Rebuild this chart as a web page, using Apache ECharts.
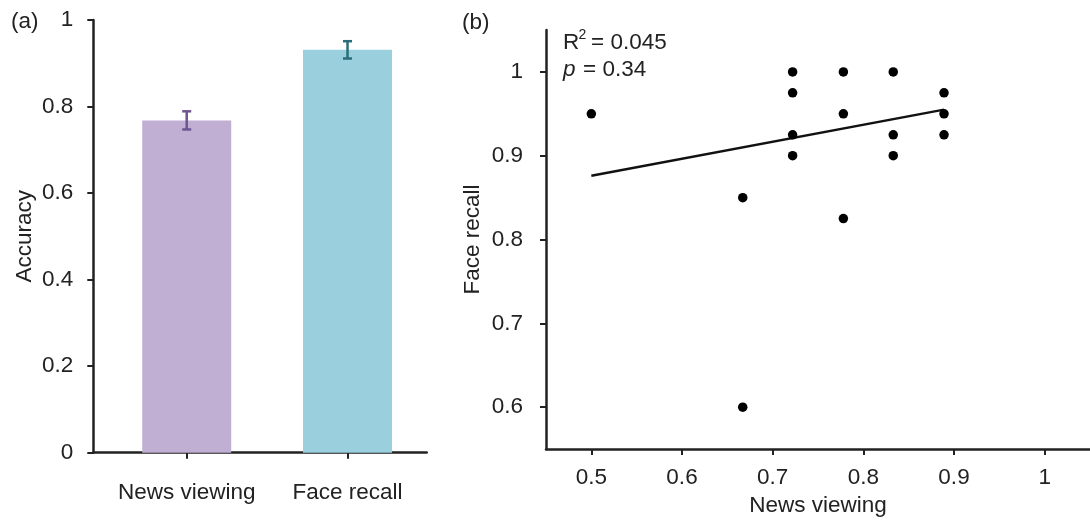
<!DOCTYPE html>
<html>
<head>
<meta charset="utf-8">
<script src="https://cdn.jsdelivr.net/npm/echarts@6/dist/echarts.min.js"></script>
<style>
html,body{margin:0;padding:0;background:#fff;}
#chart{width:1090px;height:522px;}
</style>
</head>
<body>
<div id="chart"></div>
<script>
// ---- Panel (a) data ----
const barCategories = ['News viewing', 'Face recall'];
const barMeans = [0.768, 0.931];
const barErrors = [0.021, 0.020];
const barColors = ['#c0afd3', '#9ad0dd'];
const errColors = ['#6e5590', '#2a6e7c'];
const leftYTicks = [0, 0.2, 0.4, 0.6, 0.8, 1];

// ---- Panel (b) data ----
const scatterX = [0.5, 0.667, 0.667, 0.722, 0.722, 0.722, 0.722, 0.778, 0.778, 0.778, 0.833, 0.833, 0.833, 0.889, 0.889, 0.889];
const scatterY = [0.95, 0.85, 0.6, 1.0, 0.975, 0.925, 0.9, 1.0, 0.95, 0.825, 1.0, 0.925, 0.9, 0.975, 0.95, 0.925];
const fitX = [0.5, 0.889];
const fitY = [0.876, 0.955];
const rightXTicks = [0.5, 0.6, 0.7, 0.8, 0.9, 1];
const rightYTicks = [0.6, 0.7, 0.8, 0.9, 1];
const statR2 = '0.045';
const statP = '0.34';

const FONT = 'Liberation Sans, Arial, sans-serif';
const TXT = '#222';
const FS = 22.5;
const axisLine = { show: true, onZero: false, lineStyle: { color: '#222', width: 2.5 } };
const axisTick = (vals) => ({ show: true, length: 6, customValues: vals, lineStyle: { color: '#222', width: 2 } });
const fmtNum = v => (Math.abs(v - Math.round(v)) < 1e-9 ? String(Math.round(v)) : v.toFixed(1));

const chart = echarts.init(document.getElementById('chart'), null, { renderer: 'canvas' });

const barIdx = barCategories.map((c, i) => i);

chart.setOption({
  animation: false,
  backgroundColor: '#fff',
  textStyle: { fontFamily: FONT },
  grid: [
    { left: 93.3, top: 20, width: 333.4, height: 432.7 },
    { left: 546, top: 30, width: 547, height: 420.7 }
  ],
  xAxis: [
    {
      gridIndex: 0, type: 'value', min: -0.581, max: 1.4925,
      splitLine: { show: false },
      axisLine: axisLine,
      axisTick: axisTick(barIdx),
      axisLabel: { customValues: barIdx, formatter: v => barCategories[Math.round(v)], margin: 29, fontSize: FS, color: TXT, fontFamily: FONT }
    },
    {
      gridIndex: 1, type: 'value', min: 0.45, max: 1.05,
      splitLine: { show: false },
      axisLine: axisLine,
      axisTick: axisTick(rightXTicks),
      axisLabel: { customValues: rightXTicks, formatter: fmtNum, margin: 17, fontSize: FS, color: TXT, fontFamily: FONT },
      name: 'News viewing', nameLocation: 'middle', nameGap: 43,
      nameTextStyle: { fontSize: FS, color: TXT, fontFamily: FONT }
    }
  ],
  yAxis: [
    {
      gridIndex: 0, type: 'value', min: 0, max: 1,
      splitLine: { show: false },
      axisLine: axisLine,
      axisTick: axisTick(leftYTicks),
      axisLabel: { customValues: leftYTicks, formatter: fmtNum, margin: 20, fontSize: FS, color: TXT, fontFamily: FONT },
      name: 'Accuracy', nameLocation: 'middle', nameGap: 57,
      nameTextStyle: { fontSize: FS, color: TXT, fontFamily: FONT }
    },
    {
      gridIndex: 1, type: 'value', min: 0.55, max: 1.05,
      splitLine: { show: false },
      axisLine: axisLine,
      axisTick: axisTick(rightYTicks),
      axisLabel: { customValues: rightYTicks, formatter: fmtNum, margin: 23, fontSize: FS, color: TXT, fontFamily: FONT },
      name: 'Face recall', nameLocation: 'middle', nameGap: 62,
      nameTextStyle: { fontSize: FS, color: TXT, fontFamily: FONT }
    }
  ],
  series: [
    {
      type: 'bar', xAxisIndex: 0, yAxisIndex: 0, barWidth: 89, z: 2,
      data: barMeans.map((m, i) => ({ value: [i, m], itemStyle: { color: barColors[i] } }))
    },
    {
      type: 'custom', xAxisIndex: 0, yAxisIndex: 0, z: 10,
      data: barMeans.map((m, i) => [i, m - barErrors[i], m + barErrors[i]]),
      renderItem: function (params, api) {
        const i = api.value(0);
        const lo = api.coord([i, api.value(1)]);
        const hi = api.coord([i, api.value(2)]);
        const c = errColors[params.dataIndex];
        const hw = 4.5;
        const st = { stroke: c, lineWidth: 2.5 };
        return {
          type: 'group',
          children: [
            { type: 'line', shape: { x1: lo[0], y1: lo[1], x2: hi[0], y2: hi[1] }, style: st },
            { type: 'line', shape: { x1: lo[0] - hw, y1: lo[1], x2: lo[0] + hw, y2: lo[1] }, style: st },
            { type: 'line', shape: { x1: hi[0] - hw, y1: hi[1], x2: hi[0] + hw, y2: hi[1] }, style: st }
          ]
        };
      }
    },
    {
      type: 'line', xAxisIndex: 1, yAxisIndex: 1,
      data: fitX.map((x, i) => [x, fitY[i]]),
      showSymbol: false, symbol: 'none',
      lineStyle: { color: '#111', width: 2.5 }
    },
    {
      type: 'scatter', xAxisIndex: 1, yAxisIndex: 1, z: 5,
      data: scatterX.map((x, i) => [x, scatterY[i]]),
      symbol: 'circle', symbolSize: 9.5,
      itemStyle: { color: '#000', opacity: 1 }
    }
  ],
  graphic: [
    { type: 'text', left: 11, top: 10, style: { text: '(a)', fontSize: FS, fill: TXT, fontFamily: FONT } },
    { type: 'text', left: 462, top: 11, style: { text: '(b)', fontSize: FS, fill: TXT, fontFamily: FONT } },
    { type: 'text', x: 563, y: 43, style: { text: 'R', fontSize: FS, fill: TXT, fontFamily: FONT, verticalAlign: 'middle' } },
    { type: 'text', x: 578.5, y: 35, style: { text: '2', fontSize: 14, fill: TXT, fontFamily: FONT, verticalAlign: 'middle' } },
    { type: 'text', x: 591, y: 43, style: { text: '= ' + statR2, fontSize: FS, fill: TXT, fontFamily: FONT, verticalAlign: 'middle' } },
    { type: 'text', x: 563, y: 70, style: { text: 'p', fontSize: FS, fontStyle: 'italic', fill: TXT, fontFamily: FONT, verticalAlign: 'middle' } },
    { type: 'text', x: 583, y: 70, style: { text: '= ' + statP, fontSize: FS, fill: TXT, fontFamily: FONT, verticalAlign: 'middle' } }
  ]
});
</script>
</body>
</html>
